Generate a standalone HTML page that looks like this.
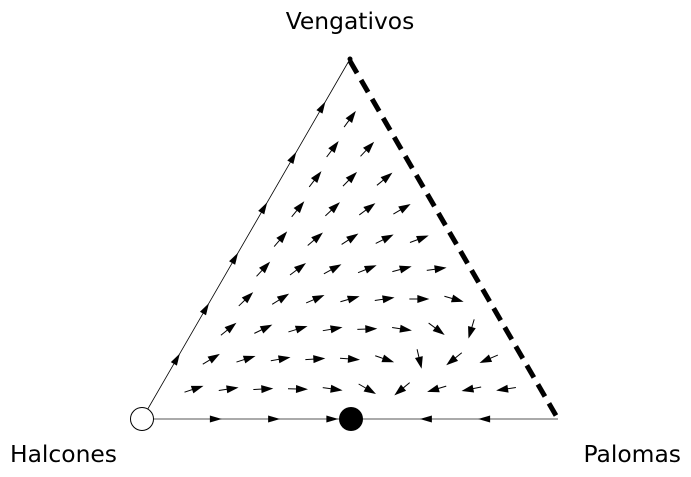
<!DOCTYPE html>
<html><head><meta charset="utf-8"><style>
html,body{margin:0;padding:0;background:#fff}
svg{display:block;font-family:"DejaVu Sans","Liberation Sans",sans-serif}
</style></head><body>
<svg id="chart" width="691" height="477" viewBox="0 0 691 477" xmlns="http://www.w3.org/2000/svg">
<text x="350" y="29" font-size="23.4" text-anchor="middle">Vengativos</text>
<text x="10" y="462" font-size="23.4">Halcones</text>
<text x="681" y="462" font-size="23.4" text-anchor="end">Palomas</text>
<g id="edges"></g>
<g id="field"></g>
<g id="points"></g>
</svg>
<script>
// Payoff matrix rows (strategies: Halcones, Palomas, Vengativos)
const strategies = ["Halcones", "Palomas", "Vengativos"];
const payoffH = [-1, 2, -1];
const payoffD = [0, 1, 1];
const payoffR = [-0.5, 1, 1];
const gridDivisions = 12;
const restPointMixed = [0.5, 0.5, 0];

const NS = "http://www.w3.org/2000/svg";
const VH = [142, 419], VD = [558, 419], VR = [350, 59];
function toXY(h, d, r) {
  return [h*VH[0] + d*VD[0] + r*VR[0], h*VH[1] + d*VD[1] + r*VR[1]];
}
function dot(a, p) { return a[0]*p[0] + a[1]*p[1] + a[2]*p[2]; }
function velocity(p) {
  const f = [dot(payoffH, p), dot(payoffD, p), dot(payoffR, p)];
  const avg = p[0]*f[0] + p[1]*f[1] + p[2]*f[2];
  return [p[0]*(f[0]-avg), p[1]*(f[1]-avg), p[2]*(f[2]-avg)];
}
function mk(tag, attrs, parent) {
  const e = document.createElementNS(NS, tag);
  for (const k in attrs) e.setAttribute(k, attrs[k]);
  parent.appendChild(e);
  return e;
}
function arrowHead(parent, x, y, ux, uy, len, wid) {
  const bx = x - ux*len, by = y - uy*len;
  const px = -uy*wid/2, py = ux*wid/2;
  return mk("polygon", {points: `${x},${y} ${bx+px},${by+py} ${bx-px},${by-py}`, fill: "#000"}, parent);
}
const edges = document.getElementById("edges");
const field = document.getElementById("field");
const points = document.getElementById("points");

let e1 = mk("line", {x1: VH[0], y1: VH[1], x2: VD[0], y2: VD[1], stroke: "#555", "stroke-width": 1}, edges);


let e2 = mk("line", {x1: VH[0], y1: VH[1], x2: VR[0], y2: VR[1], stroke: "#000", "stroke-width": 0.8}, edges);


let e3 = mk("line", {x1: VR[0], y1: VR[1]+2, x2: VD[0], y2: VD[1], stroke: "#000", "stroke-width": 5, "stroke-dasharray": "14 8"}, edges);



const bottomMarks = [0.18, 0.32, 0.46, 0.68, 0.82];
bottomMarks.forEach(t => {
  const p = [1-t, t, 0];
  const v = velocity(p);
  const [x, y] = toXY(p[0], p[1], p[2]);
  const [x2, y2] = toXY(p[0]+v[0], p[1]+v[1], p[2]+v[2]);
  let dx = x2-x, dy = y2-y, n = Math.hypot(dx, dy) || 1;
  const a = arrowHead(edges, x+dx/n*5, y+dy/n*5, dx/n, dy/n, 12, 7);
  
  
});
const leftMarks = [0.17, 0.31, 0.45, 0.59, 0.73, 0.87];
leftMarks.forEach(t => {
  const [x, y] = toXY(1-t, 0, t);
  const ux = VR[0]-VH[0], uy = VR[1]-VH[1], n = Math.hypot(ux, uy);
  const a = arrowHead(edges, x+ux/n*5, y+uy/n*5, ux/n, uy/n, 12, 7);
  
  
});

const N = gridDivisions;
for (let i = 1; i < N; i++) {
  for (let j = 1; i + j < N; j++) {
    const p = [(N-i-j)/N, i/N, j/N];
    const v = velocity(p);
    const [x, y] = toXY(p[0], p[1], p[2]);
    const [x2, y2] = toXY(p[0]+v[0], p[1]+v[1], p[2]+v[2]);
    let dx = x2-x, dy = y2-y, n = Math.hypot(dx, dy);
    if (n < 1e-9) continue;
    dx /= n; dy /= n;
    const L = 20;
    const g = mk("g", {}, field);
    
    
    mk("line", {x1: x-dx*L/2, y1: y-dy*L/2, x2: x+dx*L/2-dx*6, y2: y+dy*L/2-dy*6, stroke: "#000", "stroke-width": 1}, g);
    arrowHead(g, x+dx*L/2, y+dy*L/2, dx, dy, 12, 8);
  }
}

const [mx, my] = toXY(restPointMixed[0], restPointMixed[1], restPointMixed[2]);
let c1 = mk("circle", {cx: VH[0], cy: VH[1], r: 11.5, fill: "#fff", stroke: "#000", "stroke-width": 1}, points);


let c2 = mk("circle", {cx: mx + 1, cy: my, r: 12, fill: "#000"}, points);


let c3 = mk("circle", {cx: VR[0], cy: VR[1], r: 2.5, fill: "#000"}, points);


</script>
</body></html>
